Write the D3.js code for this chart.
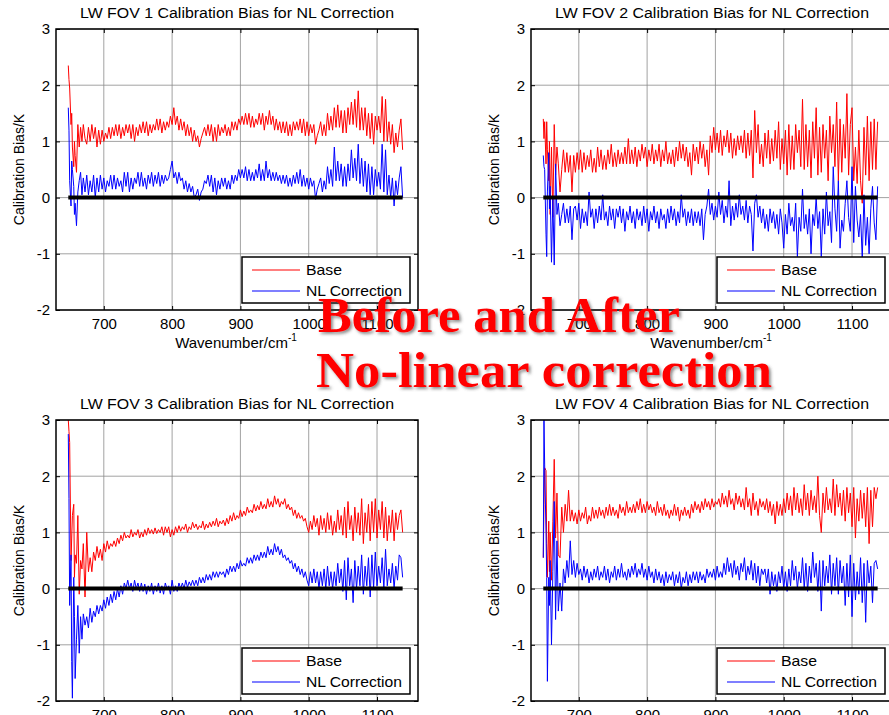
<!DOCTYPE html>
<html>
<head>
<meta charset="utf-8">
<script src="https://cdn.jsdelivr.net/npm/d3@7"></script>
<style>
  body { margin: 0; background: #fff; }
  svg { display: block; font-family: "Liberation Sans", Arial, sans-serif; }
</style>
</head>
<body>
<svg id="chart" width="889" height="715"></svg>
<script>
// wavenumber grid (cm-1) shared by every series
const wavenumber = [648,649,650,652,653,654,656,657,658,660,662,664,666,668,670,672.5,
  675,677.5,680,682.5,685,687.5,690,692.5,
  695,697.5,700,702.5,705,707.5,710,712.5,
  715,717.5,720,722.5,725,727.5,730,732.5,
  735,737.5,740,742.5,745,747.5,750,752.5,
  755,757.5,760,762.5,765,767.5,770,772.5,
  775,777.5,780,782.5,785,787.5,790,792.5,
  795,797.5,800,802.5,805,807.5,810,812.5,
  815,817.5,820,822.5,825,827.5,830,832.5,
  835,837.5,840,842.5,845,847.5,850,852.5,
  855,857.5,860,862.5,865,867.5,870,872.5,
  875,877.5,880,882.5,885,887.5,890,892.5,
  895,897.5,900,902.5,905,907.5,910,912.5,
  915,917.5,920,922.5,925,927.5,930,932.5,
  935,937.5,940,942.5,945,947.5,950,952.5,
  955,957.5,960,962.5,965,967.5,970,972.5,
  975,977.5,980,982.5,985,987.5,990,992.5,
  995,997.5,1000,1002.5,1005,1007.5,1010,1012.5,
  1015,1017.5,1020,1022.5,1025,1027.5,1030,1032.5,
  1035,1037.5,1040,1042.5,1045,1047.5,1050,1052.5,
  1055,1057.5,1060,1062.5,1065,1067.5,1070,1072.5,
  1075,1077.5,1080,1082.5,1085,1087.5,1090,1092.5,
  1095,1097.5,1100,1102.5,1105,1107.5,1110,1112.5,
  1115,1117.5,1120,1122.5,1125,1127.5,1130,1132.5,
  1135,1137.5];

const xTicks = [700, 800, 900, 1000, 1100];
const yTicks = [-2, -1, 0, 1, 2, 3];
const fovTitles = ["LW FOV 1 Calibration Bias for NL Correction",
  "LW FOV 2 Calibration Bias for NL Correction",
  "LW FOV 3 Calibration Bias for NL Correction",
  "LW FOV 4 Calibration Bias for NL Correction"];
const legendLabels = ["Base", "NL Correction"];
const overlayLines = ["Before and After", "No-linear correction"];

// FOV 1
const base1 = [2.35,2.1,1.95,1.3,1.5,0.9,0.55,1.0,0.75,0.45,1.3,0.9,1.25,1.0,1.3,1.05,
  0.95,1.25,1.0,1.3,1.05,1.25,0.9,1.2,
  0.95,1.2,1.0,1.15,1.05,1.25,1.05,1.25,
  1.1,1.3,1.1,1.3,1.05,1.25,1.1,1.3,
  1.15,1.3,1.05,1.3,1.0,1.25,1.1,1.3,
  1.15,1.35,1.15,1.35,1.1,1.3,1.15,1.3,
  1.2,1.4,1.2,1.4,1.15,1.35,1.2,1.35,
  1.25,1.45,1.3,1.6,1.3,1.45,1.2,1.4,
  1.2,1.35,1.1,1.3,1.1,1.25,1.0,1.2,
  1.0,1.1,0.9,1.05,1.15,1.25,1.1,1.3,
  1.1,1.3,1.0,1.25,1.0,1.3,1.1,1.25,
  1.15,1.3,1.1,1.25,1.1,1.35,1.2,1.35,
  1.2,1.4,1.3,1.45,1.3,1.5,1.3,1.5,
  1.25,1.45,1.25,1.4,1.3,1.5,1.3,1.5,
  1.2,1.45,1.3,1.55,1.3,1.45,1.2,1.4,
  1.2,1.35,1.15,1.35,1.15,1.35,1.1,1.3,
  1.1,1.35,1.2,1.35,1.2,1.4,1.15,1.4,
  1.1,1.35,1.1,1.3,1.15,1.3,0.95,1.1,
  1.2,1.35,1.1,1.3,1.1,1.5,1.2,1.45,
  1.2,1.6,1.25,1.65,1.25,1.55,1.15,1.55,
  1.15,1.6,1.3,1.7,1.3,1.75,1.25,1.9,
  1.2,1.6,1.2,1.6,1.1,1.5,1.05,1.5,
  0.95,1.45,1.2,1.45,1.15,1.8,1.0,1.75,
  1.0,1.35,0.95,1.3,0.8,1.15,0.9,1.2,
  1.4,0.85];
const nl1 = [1.6,1.2,0.3,-0.15,0.65,0.5,0.2,-0.3,-0.1,-0.5,0.1,0.3,0.45,0.05,0.35,0.1,
  0.4,0.05,0.3,0.1,0.4,0.0,0.35,0.1,
  0.4,0.15,0.35,0.1,0.3,0.2,0.4,0.15,
  0.4,0.15,0.35,0.2,0.3,0.1,0.45,0.2,
  0.45,0.1,0.35,0.15,0.35,0.25,0.45,0.2,
  0.45,0.2,0.35,0.15,0.4,0.25,0.45,0.2,
  0.4,0.25,0.45,0.2,0.4,0.25,0.4,0.3,
  0.35,0.5,0.65,0.35,0.45,0.25,0.45,0.3,
  0.35,0.15,0.3,0.1,0.25,0.1,0.2,0.0,
  0.05,0.15,-0.05,0.1,0.15,0.3,0.25,0.4,
  0.2,0.4,0.1,0.35,0.05,0.3,0.15,0.35,
  0.2,0.35,0.15,0.3,0.15,0.4,0.25,0.4,
  0.3,0.5,0.35,0.5,0.35,0.55,0.3,0.5,
  0.3,0.45,0.3,0.5,0.35,0.6,0.3,0.5,
  0.3,0.65,0.35,0.5,0.3,0.45,0.3,0.45,
  0.3,0.4,0.25,0.4,0.25,0.4,0.2,0.35,
  0.2,0.4,0.25,0.45,0.25,0.5,0.2,0.4,
  0.2,0.35,0.15,0.35,0.2,0.3,-0.03,0.15,
  0.25,0.35,0.1,0.3,0.15,0.55,0.25,0.5,
  0.2,0.9,0.3,0.65,0.3,0.6,0.2,0.55,
  0.2,0.6,0.3,0.85,0.35,0.7,0.3,0.95,
  0.25,0.7,0.2,0.65,0.1,0.6,0.05,0.55,
  0.05,0.5,0.2,0.45,0.15,0.95,0.1,0.85,
  0.05,0.4,0.0,0.35,-0.15,0.3,0.05,0.35,
  0.55,0.0];

// FOV 2
const base2 = [1.4,1.05,1.35,0.6,1.35,0.85,0.3,1.0,-0.3,0.9,-0.35,1.3,0.4,0.9,0.6,0.1,
  0.5,0.85,0.45,0.8,0.45,0.75,0.1,0.75,
  0.45,0.8,0.5,0.85,0.45,0.8,0.5,0.75,
  0.55,0.85,0.45,0.7,0.45,0.9,0.55,0.85,
  0.5,0.75,0.5,0.85,0.6,0.95,0.55,0.8,
  0.55,0.85,0.6,0.8,0.6,0.9,0.6,1.05,
  0.6,0.85,0.6,0.9,0.55,0.85,0.65,0.95,
  0.7,0.9,0.55,0.85,0.65,0.95,0.6,0.85,
  0.65,0.95,0.55,0.85,0.65,1.0,0.6,0.8,
  0.6,0.85,0.55,0.9,0.65,1.0,0.7,0.95,
  0.65,0.9,0.55,0.8,0.4,0.95,0.65,0.9,
  0.6,1.0,0.7,0.95,0.55,0.85,0.4,1.1,
  0.8,1.25,0.85,1.15,0.8,1.2,0.75,1.1,
  0.9,1.2,0.8,1.15,0.7,1.05,0.75,1.1,
  0.85,1.1,0.8,1.2,0.7,1.15,0.75,1.2,
  0.35,1.55,0.8,1.3,0.6,0.95,0.55,1.15,
  0.7,1.2,0.6,1.05,0.65,1.2,0.7,1.35,
  0.5,1.05,0.6,1.2,0.4,1.3,0.5,1.1,
  0.5,1.3,0.8,1.2,0.55,1.75,0.5,1.3,
  0.55,1.2,0.35,1.35,0.7,1.6,0.4,1.25,
  0.45,1.3,0.7,1.2,0.3,1.45,0.8,1.3,
  0.55,1.7,0.3,1.4,0.45,1.3,0.7,1.85,
  0.4,1.3,1.6,0.3,0.9,0.25,1.2,0.3,
  -0.1,1.25,0.4,1.45,0.3,1.35,0.5,1.4,
  0.5,1.35];
const nl2 = [0.75,0.55,0.5,-0.65,-1.05,0.1,0.8,-0.2,0.2,-1.15,0.0,-1.2,0.6,-0.3,-0.1,-0.5,
  -0.3,-0.1,-0.45,-0.2,-0.45,-0.15,-0.75,-0.2,
  -0.15,-0.4,-0.1,-0.55,-0.2,-0.45,-0.25,-0.5,
  0.1,-0.35,-0.2,-0.55,-0.2,-0.45,-0.15,-0.4,
  0.05,-0.4,-0.25,-0.5,-0.15,-0.4,-0.2,-0.55,
  -0.2,-0.35,-0.15,-0.45,-0.2,-0.6,-0.25,-0.4,
  -0.15,-0.45,-0.25,-0.55,-0.2,-0.4,-0.25,-0.5,
  -0.15,-0.45,-0.2,-0.6,-0.25,-0.4,-0.15,-0.45,
  -0.25,-0.55,-0.2,-0.4,-0.3,-0.55,-0.2,-0.45,
  -0.15,-0.4,-0.2,-0.5,-0.25,-0.45,0.05,-0.35,
  -0.2,-0.5,-0.25,-0.45,-0.2,-0.5,-0.25,-0.45,
  -0.25,-0.5,-0.2,-0.75,-0.3,-0.15,0.15,-0.3,
  -0.1,-0.4,-0.15,-0.35,0.1,-0.3,-0.05,-0.45,
  -0.15,-0.35,0.3,-0.5,-0.15,-0.4,-0.1,-0.35,
  0.05,-0.3,-0.15,-0.4,-0.05,-0.45,-0.15,-0.3,
  -0.95,-0.1,0.05,-0.35,-0.15,-0.45,-0.2,-0.55,
  -0.3,-0.6,-0.2,-0.45,-0.25,-0.55,-0.3,-0.65,
  -0.2,-0.45,-0.9,-0.3,-0.65,-0.1,-0.5,-0.35,
  -0.6,-0.1,-1.05,-0.35,-0.6,0.15,-0.55,-0.3,
  -0.65,-0.2,-1.0,-0.3,-0.5,0.0,-0.55,-0.25,
  -1.05,-0.2,-0.65,0.1,-0.5,-0.25,-0.8,0.55,
  -0.2,-0.6,0.3,-0.9,-0.4,-0.6,-0.1,0.3,
  -0.35,-0.6,0.55,-0.8,0.2,-0.4,-0.7,-0.3,
  -1.1,0.05,-0.85,-0.35,-1.0,-0.2,0.2,-0.45,
  -0.75,0.2];

// FOV 3
const base3 = [3.0,2.8,2.6,0.5,0.9,1.3,1.5,0.2,0.6,0.45,1.3,-0.1,0.5,0.35,0.8,-0.15,
  1.0,0.3,0.55,0.3,0.65,0.5,0.75,0.55,
  0.7,0.5,0.8,0.65,0.85,0.7,0.8,0.75,
  0.85,0.75,0.9,0.8,0.95,0.85,1.0,0.9,
  0.95,0.9,1.05,0.92,1.0,0.95,1.05,0.9,
  1.0,0.92,1.05,0.95,1.08,0.98,1.05,0.97,
  1.08,0.98,1.05,1.0,1.1,0.95,1.1,1.0,
  1.1,0.92,1.05,0.95,1.1,1.0,1.12,1.02,
  1.1,1.05,1.15,1.0,1.1,1.05,1.18,1.08,
  1.15,1.05,1.12,1.08,1.2,1.05,1.15,1.08,
  1.18,1.1,1.2,1.12,1.25,1.1,1.2,1.15,
  1.22,1.12,1.25,1.15,1.3,1.2,1.35,1.22,
  1.3,1.25,1.4,1.28,1.38,1.3,1.45,1.35,
  1.4,1.35,1.5,1.38,1.48,1.4,1.55,1.42,
  1.5,1.42,1.6,1.45,1.55,1.45,1.65,1.5,
  1.6,1.45,1.55,1.5,1.6,1.42,1.5,1.4,
  1.45,1.3,1.4,1.25,1.35,1.25,1.3,1.2,
  1.25,1.1,1.0,1.2,1.05,1.3,1.1,1.25,
  0.95,1.3,1.05,1.25,1.0,1.35,1.05,1.3,
  0.95,1.2,1.0,1.4,1.05,1.3,0.95,1.45,
  0.9,1.55,1.05,1.3,0.85,1.45,1.0,1.35,
  0.95,1.6,0.8,1.35,1.0,1.5,0.85,1.55,
  1.0,1.6,0.9,1.4,1.05,1.55,0.9,1.45,
  0.85,1.3,1.0,1.4,0.85,1.35,1.05,1.3,
  1.4,1.0];
const nl3 = [2.75,1.6,-0.3,0.6,-1.3,-1.95,0.2,-0.5,-1.6,-0.9,-0.3,-1.15,-0.5,-0.9,-0.45,-0.65,
  -0.5,-0.7,-0.35,-0.6,-0.4,-0.5,-0.3,-0.45,
  -0.3,-0.4,-0.2,-0.35,-0.15,-0.3,-0.1,-0.25,
  -0.05,-0.2,0.0,-0.15,0.05,-0.1,0.1,0.0,
  0.15,0.0,0.1,-0.05,0.15,0.0,0.1,-0.05,
  0.1,-0.05,0.08,-0.1,0.05,-0.05,0.1,-0.1,
  0.05,-0.05,0.1,-0.08,0.05,-0.1,0.1,0.0,
  0.05,-0.1,0.15,-0.05,0.05,-0.05,0.1,0.0,
  0.1,0.0,0.15,0.02,0.12,0.05,0.15,0.05,
  0.15,0.05,0.2,0.1,0.2,0.1,0.25,0.15,
  0.25,0.15,0.3,0.2,0.3,0.2,0.3,0.25,
  0.3,0.2,0.35,0.25,0.4,0.3,0.4,0.3,
  0.45,0.35,0.5,0.4,0.45,0.4,0.55,0.45,
  0.55,0.45,0.6,0.5,0.6,0.5,0.65,0.55,
  0.65,0.55,0.75,0.6,0.7,0.6,0.8,0.65,
  0.75,0.6,0.7,0.55,0.6,0.5,0.55,0.45,
  0.5,0.35,0.45,0.3,0.4,0.25,0.35,0.2,
  0.3,0.15,0.05,0.3,0.1,0.35,0.1,0.3,
  0.0,0.3,0.05,0.35,0.0,0.4,0.05,0.3,
  0.0,0.3,0.05,0.45,0.1,0.35,-0.05,0.5,
  -0.2,0.55,0.05,0.35,-0.25,0.5,0.0,0.4,
  0.05,0.6,-0.1,0.4,0.05,0.55,-0.15,0.6,
  0.0,0.65,0.05,0.4,0.1,0.55,0.0,0.7,
  0.05,0.35,0.1,0.45,0.0,0.4,0.15,0.6,
  0.55,0.2];

// FOV 4
const base4 = [0.55,1.5,2.15,2.1,0.8,0.2,1.2,0.3,1.0,0.15,1.2,2.3,0.9,1.7,0.6,0.55,
  1.45,1.0,1.5,1.2,1.75,1.2,1.4,1.2,
  1.35,1.15,1.4,1.2,1.35,1.25,1.45,1.15,
  1.3,1.2,1.45,1.25,1.4,1.25,1.45,1.3,
  1.4,1.25,1.45,1.3,1.5,1.3,1.45,1.3,
  1.4,1.25,1.5,1.35,1.45,1.3,1.55,1.35,
  1.45,1.35,1.5,1.35,1.55,1.4,1.6,1.35,
  1.5,1.35,1.55,1.4,1.5,1.35,1.45,1.3,
  1.55,1.35,1.45,1.3,1.5,1.3,1.4,1.25,
  1.4,1.3,1.5,1.3,1.45,1.2,1.4,1.3,
  1.45,1.3,1.4,1.25,1.5,1.35,1.55,1.4,
  1.5,1.35,1.55,1.4,1.6,1.45,1.55,1.4,
  1.6,1.45,1.55,1.5,1.6,1.45,1.7,1.5,
  1.65,1.45,1.75,1.5,1.6,1.4,1.7,1.5,
  1.65,1.45,1.6,1.4,1.8,1.45,1.6,1.3,
  1.7,1.4,1.55,1.3,1.6,1.45,1.55,1.4,
  1.6,1.35,1.55,1.3,1.5,1.15,1.55,1.3,
  1.5,1.3,1.6,1.35,1.7,1.4,1.65,1.3,
  1.8,1.4,1.7,1.35,1.6,1.3,1.85,1.4,
  1.7,1.3,1.75,1.4,1.65,1.35,2.0,1.3,
  1.0,1.7,1.35,1.8,1.4,1.6,1.35,1.95,
  1.3,1.85,1.45,1.7,1.3,1.75,1.2,1.8,
  1.35,1.7,1.1,1.8,0.9,1.6,1.2,1.75,
  1.25,1.7,1.1,1.8,0.8,1.75,1.1,1.8,
  1.6,1.8];
const nl4 = [0.55,3.0,2.2,1.0,0.2,-1.65,0.2,-0.3,0.5,-1.0,0.3,1.55,-0.55,0.85,-0.4,0.1,
  -0.4,0.35,0.1,0.5,0.2,0.85,0.25,0.5,
  0.2,0.45,0.25,0.35,0.15,0.4,0.2,0.35,
  0.1,0.3,0.15,0.35,0.2,0.4,0.15,0.3,
  0.2,0.4,0.15,0.35,0.1,0.3,0.2,0.4,
  0.15,0.35,0.2,0.45,0.2,0.3,0.15,0.35,
  0.2,0.4,0.25,0.45,0.2,0.35,0.25,0.45,
  0.2,0.35,0.15,0.4,0.2,0.3,0.1,0.35,
  0.15,0.3,0.1,0.25,0.05,0.3,0.1,0.25,
  0.15,0.3,0.05,0.25,0.1,0.3,0.0,0.2,
  0.1,0.3,0.05,0.25,0.1,0.3,0.15,0.3,
  0.1,0.3,0.15,0.25,0.1,0.35,0.2,0.3,
  0.2,0.35,0.15,0.4,0.2,0.3,0.2,0.45,
  0.25,0.55,0.3,0.45,0.2,0.5,0.25,0.4,
  0.15,0.45,0.3,0.55,0.15,0.4,0.25,0.5,
  0.15,0.45,0.1,0.4,0.05,0.35,0.25,0.35,
  0.1,0.35,-0.1,0.3,0.05,0.25,-0.05,0.3,
  0.1,0.4,0.0,0.3,-0.05,0.35,0.05,0.5,
  0.15,0.4,0.0,0.3,0.1,0.55,0.0,0.45,
  -0.05,0.4,0.1,0.65,0.2,0.45,-0.05,0.5,
  -0.4,0.5,0.05,0.4,0.1,0.6,-0.1,0.45,
  0.05,0.55,-0.1,0.5,0.1,0.4,-0.3,0.45,
  -0.15,0.6,-0.5,0.45,-0.2,0.3,-0.1,0.55,
  -0.25,0.45,-0.6,0.5,0.1,0.4,-0.25,0.45,
  0.5,0.35];

const baseSeries = [base1, base2, base3, base4];
const nlSeries = [nl1, nl2, nl3, nl4];

// layout
const panelW = 362, panelH = 281;
const panelPos = [[56, 29], [531, 29], [56, 420], [531, 420]];

const svg = d3.select("#chart");
const defs = svg.append("defs");
defs.append("clipPath").attr("id", "plotClip")
  .append("rect").attr("width", panelW).attr("height", panelH);

const shadow = defs.append("filter").attr("id", "textShadow")
  .attr("x", "-10%").attr("y", "-20%").attr("width", "130%").attr("height", "150%");
shadow.append("feDropShadow")
  .attr("dx", 2).attr("dy", 2).attr("stdDeviation", 1.5)
  .attr("flood-color", "#444").attr("flood-opacity", 0.6);

const x = d3.scaleLinear().domain([630, 1160]).range([0, panelW]);
const y = d3.scaleLinear().domain([-2, 3]).range([panelH, 0]);

const line = d3.line()
  .defined(d => d != null)
  .x((d, j) => x(wavenumber[j]))
  .y(d => y(d));

function drawPanel(i) {
  const [px, py] = panelPos[i];
  const g = svg.append("g").attr("transform", `translate(${px},${py})`);

  // grid lines
  g.append("g").selectAll("line").data(xTicks).join("line")
    .attr("x1", d => x(d)).attr("x2", d => x(d))
    .attr("y1", 0).attr("y2", panelH)
    .attr("stroke", "#8a8a8a").attr("stroke-width", 0.8);
  g.append("g").selectAll("line").data(yTicks).join("line")
    .attr("x1", 0).attr("x2", panelW)
    .attr("y1", d => y(d)).attr("y2", d => y(d))
    .attr("stroke", "#8a8a8a").attr("stroke-width", 0.8);

  // data
  const plot = g.append("g").attr("clip-path", "url(#plotClip)");
  plot.append("path").datum(baseSeries[i])
    .attr("d", line).attr("fill", "none")
    .attr("stroke", "#ff0000").attr("stroke-width", 1);
  plot.append("path").datum(nlSeries[i])
    .attr("d", line).attr("fill", "none")
    .attr("stroke", "#0000ff").attr("stroke-width", 1);
  // zero reference line
  plot.append("line")
    .attr("x1", x(wavenumber[0])).attr("x2", x(wavenumber[wavenumber.length - 1]))
    .attr("y1", y(0)).attr("y2", y(0))
    .attr("stroke", "#000").attr("stroke-width", 4);

  // axes, ticks pointing inward (plain hyphen minus like the original)
  const fmt = d => String(d);
  const xAxis = g.append("g").attr("transform", `translate(0,${panelH})`)
    .call(d3.axisBottom(x).tickValues(xTicks).tickFormat(fmt).tickSize(-4).tickSizeOuter(0).tickPadding(8));
  const yAxis = g.append("g")
    .call(d3.axisLeft(y).tickValues(yTicks).tickFormat(fmt).tickSize(-4).tickSizeOuter(0).tickPadding(6));
  g.append("g")
    .call(d3.axisTop(x).tickValues(xTicks).tickSize(-4).tickSizeOuter(0).tickFormat(""));
  g.append("g").attr("transform", `translate(${panelW},0)`)
    .call(d3.axisRight(y).tickValues(yTicks).tickSize(-4).tickSizeOuter(0).tickFormat(""));
  g.selectAll(".domain").remove();
  g.selectAll(".tick line").attr("stroke", "#000");
  [xAxis, yAxis].forEach(a => a.selectAll("text")
    .attr("fill", "#000").style("font-size", "15px")
    .style("font-family", "'Liberation Sans', Arial, sans-serif"));

  // box
  g.append("rect").attr("width", panelW).attr("height", panelH)
    .attr("fill", "none").attr("stroke", "#000").attr("stroke-width", 1.5);

  // title
  g.append("text")
    .attr("x", panelW / 2 - 157).attr("y", -11)
    .attr("textLength", 314).attr("lengthAdjust", "spacingAndGlyphs")
    .style("font-size", "14px")
    .text(fovTitles[i]);

  // y label
  g.append("text")
    .attr("transform", `translate(-37,${panelH / 2}) rotate(-90)`)
    .attr("text-anchor", "middle").attr("dy", "0.35em")
    .style("font-size", "14px")
    .text("Calibration Bias/K");

  // x label with superscript
  const xl = g.append("text")
    .attr("x", 180).attr("y", panelH + 38)
    .attr("text-anchor", "middle")
    .style("font-size", "15px");
  xl.append("tspan").text("Wavenumber/cm");
  xl.append("tspan").attr("dy", -7).style("font-size", "10px").text("-1");

  // legend
  const lg = g.append("g").attr("transform", `translate(186,${panelH - 53})`);
  lg.append("rect").attr("width", 168).attr("height", 46)
    .attr("fill", "#fff").attr("stroke", "#000").attr("stroke-width", 1.5);
  const legendColors = ["#ff0000", "#0000ff"];
  const legendWidths = [36, 96];
  legendLabels.forEach((lab, k) => {
    const ly = 13 + k * 21;
    lg.append("line").attr("x1", 10).attr("x2", 58)
      .attr("y1", ly).attr("y2", ly)
      .attr("stroke", legendColors[k]).attr("stroke-width", 1.2);
    lg.append("text").attr("x", 64).attr("y", ly + 5)
      .attr("textLength", legendWidths[k]).attr("lengthAdjust", "spacingAndGlyphs")
      .style("font-size", "14.5px").text(lab);
  });
}

for (let i = 0; i < 4; i++) drawPanel(i);

// overlay caption
const cap = svg.append("g")
  .attr("filter", "url(#textShadow)")
  .style("font-family", "'Liberation Serif', 'Times New Roman', serif")
  .style("font-weight", "bold")
  .style("font-size", "50px")
  .attr("fill", "#ff0000");
cap.append("text").attr("x", 318).attr("y", 332)
  .attr("textLength", 362).attr("lengthAdjust", "spacingAndGlyphs")
  .text(overlayLines[0]);
cap.append("text").attr("x", 316).attr("y", 387)
  .attr("textLength", 456).attr("lengthAdjust", "spacingAndGlyphs")
  .text(overlayLines[1]);
</script>
</body>
</html>
